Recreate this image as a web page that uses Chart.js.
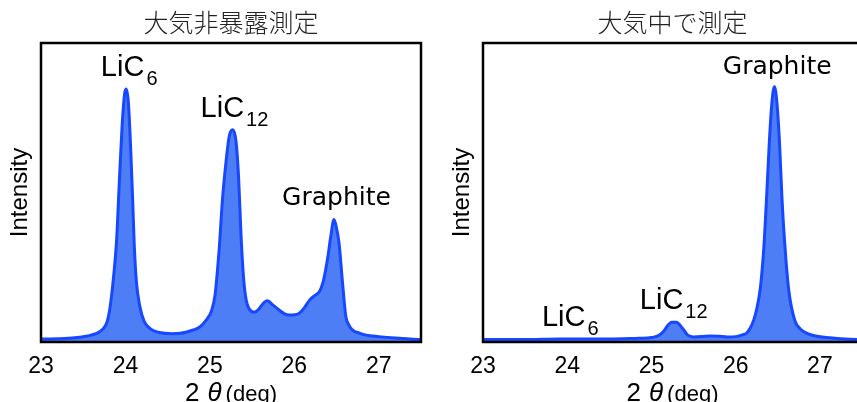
<!DOCTYPE html>
<html>
<head>
<meta charset="utf-8">
<script src="https://cdn.jsdelivr.net/npm/chart.js@4.4.1/dist/chart.umd.min.js"></script>
<style>
  html, body { margin: 0; padding: 0; background: #fff; overflow: hidden; width: 857px; height: 402px; }
  #left { position: absolute; left: 0; top: 0; }
  #right { position: absolute; left: 430px; top: 0; }
</style>
</head>
<body>
<canvas id="left" width="430" height="402"></canvas>
<canvas id="right" width="434" height="402"></canvas>
<script>
const xTicks = [23, 24, 25, 26, 27];
const innerTicks = [25, 26, 27];

// 大気非暴露測定
const leftX = [23.00, 23.20, 23.40, 23.55, 23.65, 23.72, 23.78, 23.82, 23.86, 23.895, 23.93, 23.96, 23.99, 24.01,
  24.035, 24.06, 24.085, 24.105, 24.13, 24.17, 24.22, 24.30, 24.40, 24.55, 24.65, 24.80, 24.88, 24.96, 25.02,
  25.06, 25.09, 25.11, 25.15, 25.19, 25.23, 25.27, 25.31, 25.34, 25.37, 25.40, 25.43, 25.49, 25.53, 25.58, 25.64,
  25.685, 25.74, 25.82, 25.88, 25.94, 26.00, 26.06, 26.12, 26.18, 26.24, 26.30, 26.34, 26.37, 26.40, 26.43,
  26.47, 26.50, 26.53, 26.57, 26.61, 26.65, 26.69, 26.77, 26.85, 27.00, 27.20, 27.50];
const leftY = [1.0, 1.1, 1.4, 2.0, 2.8, 4, 6.5, 12, 22, 34, 55, 72, 83, 84.6,
  80, 66, 48, 32, 20, 12, 7, 4.3, 3.2, 2.8, 2.9, 4, 5, 7.5, 10.5,
  15.5, 24, 31, 48, 60, 69, 71, 67, 55, 35, 21, 14, 10.3, 10, 11, 13.2,
  13.8, 12.5, 10.7, 9.5, 9, 9.1, 9.6, 11.5, 14, 15.5, 17, 20, 24, 29, 35,
  41, 38, 33, 20, 8.5, 5.5, 4, 3, 2.3, 1.8, 1.3, 0.8];

// 大気中で測定
const rightX = [23.00, 23.50, 23.90, 24.10, 24.50, 24.80, 24.98, 25.05, 25.10, 25.15, 25.20, 25.24, 25.30, 25.34,
  25.38, 25.43, 25.50, 25.60, 25.70, 25.80, 25.90, 26.00, 26.08, 26.13, 26.17, 26.215, 26.25, 26.29, 26.32,
  26.34, 26.37, 26.40, 26.43, 26.46, 26.49, 26.52, 26.55, 26.58, 26.63, 26.70, 26.77, 26.84, 26.95, 27.12,
  27.30, 27.50];
const rightY = [0.8, 0.8, 1.0, 1.0, 1.0, 1.2, 1.4, 1.8, 2.4, 3.8, 5.8, 6.6, 6.6, 5.6,
  4.2, 2.3, 1.7, 1.8, 2.0, 1.9, 1.7, 1.8, 2.4, 3, 4.5, 7.4, 11, 17.4, 26,
  34, 50, 67, 80, 85.4, 80, 67, 48, 34, 17.4, 7.4, 4.3, 3, 2, 1.4,
  1.0, 0.8];

const leftNotes = [
  { text: 'LiC', sub: '6', x: 23.709, y: 89.1 },
  { text: 'LiC', sub: '12', x: 24.89, y: 75.4 },
  { text: 'Graphite', x: 25.855, y: 45.8 }
];
const rightNotes = [
  { text: 'LiC', sub: '6', x: 23.70, y: 5.5 },
  { text: 'LiC', sub: '12', x: 24.862, y: 10.9 },
  { text: 'Graphite', x: 25.847, y: 89.6 }
];

const latin = '"Liberation Sans", Arial, sans-serif';

const frame = {
  id: 'frame',
  beforeDatasetsDraw(chart) {
    const { ctx, chartArea: a, scales: { x } } = chart;
    ctx.save();
    ctx.strokeStyle = '#000';
    ctx.lineWidth = 1.5;
    innerTicks.forEach(v => {
      const px = x.getPixelForValue(v);
      ctx.beginPath();
      ctx.moveTo(px, a.bottom);
      ctx.lineTo(px, a.bottom - 6);
      ctx.stroke();
    });
    ctx.restore();
  },
  afterDatasetsDraw(chart) {
    const { ctx, chartArea: a } = chart;
    ctx.save();
    ctx.strokeStyle = '#000';
    ctx.lineWidth = 2.5;
    ctx.strokeRect(a.left, a.top, a.right - a.left, a.bottom - a.top);
    ctx.restore();
  },
  // x axis title: 2θ(deg) with mixed sizes
  afterDraw(chart) {
    const { ctx, chartArea: a } = chart;
    const parts = [
      { t: '2', f: '26px ' + latin, gap: 8 },
      { t: 'θ', f: 'italic 26px ' + latin, gap: 4 },
      { t: '(deg)', f: '22px ' + latin, gap: 0 }
    ];
    ctx.save();
    ctx.fillStyle = '#000';
    ctx.textBaseline = 'alphabetic';
    ctx.textAlign = 'left';
    let total = 0;
    parts.forEach(p => { ctx.font = p.f; p.w = ctx.measureText(p.t).width; total += p.w + p.gap; });
    let cx = (a.left + a.right) / 2 - total / 2;
    parts.forEach(p => { ctx.font = p.f; ctx.fillText(p.t, cx, 401); cx += p.w + p.gap; });
    ctx.restore();
  }
};

const notesPlugin = {
  id: 'notes',
  afterDatasetsDraw(chart, args, opts) {
    const { ctx, scales: { x, y } } = chart;
    ctx.save();
    ctx.fillStyle = '#000';
    ctx.textBaseline = 'alphabetic';
    ctx.textAlign = 'left';
    opts.items.forEach(n => {
      const px = x.getPixelForValue(n.x);
      const py = y.getPixelForValue(n.y);
      if (n.sub) {
        ctx.font = '29px ' + latin;
        ctx.fillText(n.text, px, py);
        const w = ctx.measureText(n.text).width;
        ctx.font = '20px ' + latin;
        ctx.fillText(n.sub, px + w + 2, py + 9);
      } else {
        ctx.font = '25px "DejaVu Sans"';
        ctx.fillText(n.text, px, py);
      }
    });
    ctx.restore();
  }
};

function makeChart(id, xs, ys, title, notes, yWidth, yTitlePad, padRight) {
  return new Chart(document.getElementById(id), {
    type: 'line',
    data: {
      datasets: [{
        data: xs.map((v, i) => ({ x: v, y: ys[i] })),
        borderColor: '#1747ff',
        backgroundColor: '#4d7ef6',
        fill: 'origin',
        borderWidth: 3,
        pointRadius: 0,
        cubicInterpolationMode: 'monotone'
      }]
    },
    options: {
      responsive: false,
      animation: false,
      layout: { padding: { left: 0, right: padRight, top: 0, bottom: 0 } },
      plugins: {
        legend: { display: false },
        tooltip: { enabled: false },
        title: {
          display: true,
          text: title,
          fullSize: false,
          color: '#222',
          font: { family: '"Noto Sans CJK JP"', size: 25, weight: 300, lineHeight: 1.2 },
          padding: { top: 7.5, bottom: 5.5 }
        },
        notes: { items: notes }
      },
      scales: {
        x: {
          type: 'linear',
          min: 23,
          max: 27.5,
          afterBuildTicks: s => { s.ticks = xTicks.map(v => ({ value: v })); },
          afterFit: s => { s.height = 60; },
          grid: { display: false },
          border: { display: false },
          ticks: { autoSkip: false, maxRotation: 0, padding: 3, color: '#000', font: { family: latin, size: 23 } },
          title: { display: false }
        },
        y: {
          min: 0,
          max: 100,
          afterFit: s => { s.width = yWidth; },
          grid: { display: false },
          border: { display: false },
          ticks: { display: false },
          title: {
            display: true,
            text: 'Intensity',
            color: '#000',
            font: { family: latin, size: 24, lineHeight: 1.2 },
            padding: { top: yTitlePad, bottom: 0 }
          }
        }
      }
    },
    plugins: [frame, notesPlugin]
  });
}

makeChart('left', leftX, leftY, '大気非暴露測定', leftNotes, 41, 5.6, 9);
makeChart('right', rightX, rightY, '大気中で測定', rightNotes, 53, 17.6, 2);
</script>
</body>
</html>
